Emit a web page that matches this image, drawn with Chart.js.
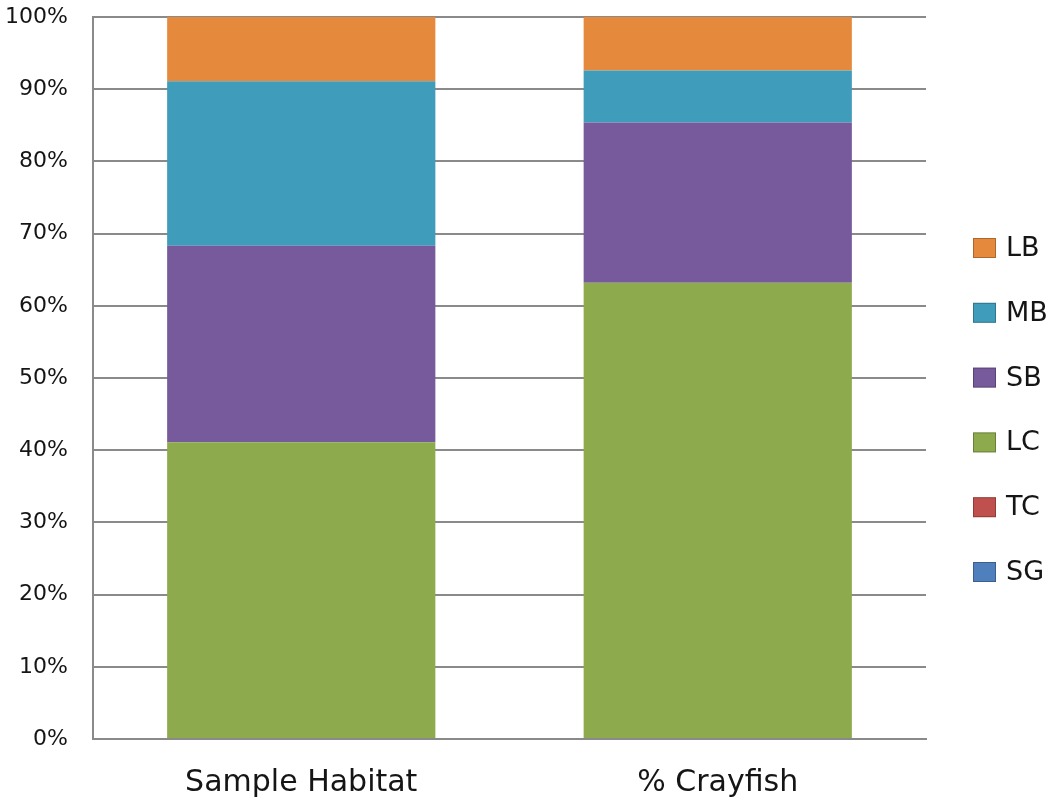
<!DOCTYPE html>
<html>
<head>
<meta charset="utf-8">
<script src="https://cdn.jsdelivr.net/npm/chart.js@4/dist/chart.umd.min.js"></script>
<style>
  html, body { margin: 0; padding: 0; background: #ffffff; }
  #wrap { width: 1059px; height: 809px; position: relative; }
</style>
</head>
<body>
<div id="wrap"><canvas id="c" width="1059" height="809"></canvas></div>
<script>
// Habitat categories on the x axis
const categories = ['Sample Habitat', '% Crayfish'];

// Share of each substrate class (percent), stacked bottom to top
const seriesNames = ['SG', 'TC', 'LC', 'SB', 'MB', 'LB'];
const SG = [0, 0];
const TC = [0, 0];
const LC = [41.1, 63.2];
const SB = [27.2, 22.2];
const MB = [22.8, 7.2];
const LB = [8.9, 7.4];

const seriesColors = {
  SG: '#4F7FBC',
  TC: '#C0504D',
  LC: '#8DAB4C',
  SB: '#765A9B',
  MB: '#3F9CBA',
  LB: '#E58A3C'
};

const yTicks = [0, 10, 20, 30, 40, 50, 60, 70, 80, 90, 100];

const seriesValues = { SG, TC, LC, SB, MB, LB };

const datasets = seriesNames.map(name => ({
  label: name,
  data: seriesValues[name],
  backgroundColor: seriesColors[name],
  borderWidth: 0,
  categoryPercentage: 1.0,
  barPercentage: 0.644
}));

const FONT = 'DejaVu Sans';
const TEXT = '#151515';

// Vertical legend on the right, top series first
const sideLegend = {
  id: 'sideLegend',
  afterDraw(chart) {
    const ctx = chart.ctx;
    const ds = chart.data.datasets.slice().reverse();
    const x0 = 973, boxW = 23, boxH = 20, y0 = 248, step = 64.8;
    ctx.save();
    ctx.font = '27px "' + FONT + '"';
    ctx.textBaseline = 'middle';
    ctx.textAlign = 'left';
    ds.forEach((d, i) => {
      const cy = y0 + i * step;
      ctx.fillStyle = d.backgroundColor;
      ctx.fillRect(x0, cy - boxH / 2, boxW, boxH);
      ctx.strokeStyle = 'rgba(0,0,0,0.25)';
      ctx.lineWidth = 1;
      ctx.strokeRect(x0 + 0.5, cy - boxH / 2 + 0.5, boxW - 1, boxH - 1);
      ctx.fillStyle = TEXT;
      ctx.fillText(d.label, x0 + boxW + 10, cy + 1);
    });
    ctx.restore();
  }
};

new Chart(document.getElementById('c'), {
  type: 'bar',
  data: { labels: categories, datasets },
  options: {
    responsive: false,
    animation: false,
    layout: { padding: { top: 17, right: 133, bottom: 0, left: 0 } },
    plugins: {
      legend: { display: false },
      tooltip: { enabled: false }
    },
    scales: {
      x: {
        stacked: true,
        grid: { display: false, drawTicks: false },
        border: { display: true, color: '#8a8a8a', width: 2 },
        ticks: {
          color: TEXT,
          font: { family: FONT, size: 30 },
          padding: 26,
          maxRotation: 0
        },
        afterFit(scale) {
          scale.height = 70;
          scale.paddingLeft = 0;
          scale.paddingRight = 0;
        }
      },
      y: {
        stacked: true,
        min: 0,
        max: 100,
        afterBuildTicks(scale) { scale.ticks = yTicks.map(v => ({ value: v })); },
        grid: { color: '#8a8a8a', lineWidth: 2, drawTicks: false },
        border: { display: true, color: '#8a8a8a', width: 2 },
        ticks: {
          color: TEXT,
          font: { family: FONT, size: 22 },
          padding: 25,
          callback: v => v + '%'
        },
        afterFit(scale) {
          scale.width = 93;
          scale.paddingTop = 0;
          scale.paddingBottom = 0;
        }
      }
    }
  },
  plugins: [sideLegend]
});
</script>
</body>
</html>
